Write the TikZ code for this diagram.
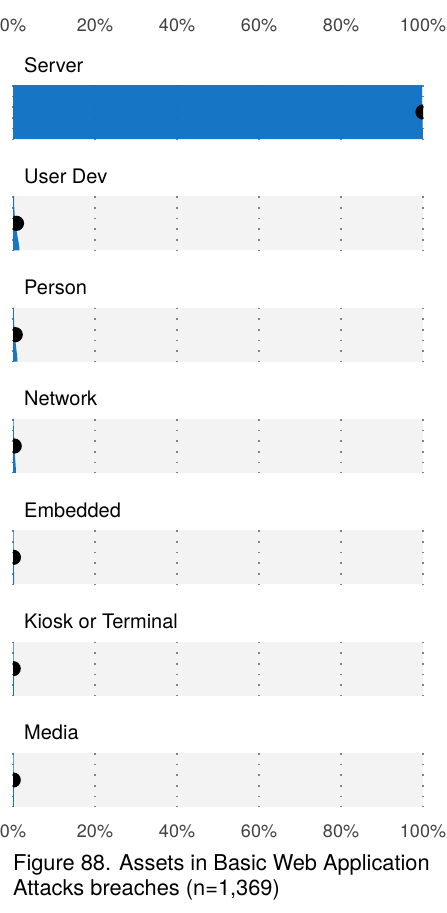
\documentclass[tikz,border=0pt]{standalone}
\usepackage{fontspec}
\setmainfont{TeX Gyre Heros}
\usetikzlibrary{positioning}
\definecolor{barblue}{RGB}{16,113,196}
\definecolor{bargray}{RGB}{243,243,243}
\definecolor{tickgray}{RGB}{64,64,64}
\definecolor{dotgray}{RGB}{130,130,130}

\begin{document}
\begin{tikzpicture}[x=1pt,y=-1pt,
    tick/.style={font=\fontsize{18}{18}\selectfont,text=tickgray,anchor=base,inner sep=0pt},
    asset/.style={font=\fontsize{20}{20}\selectfont,anchor=base west,inner sep=0pt},
    caption/.style={font=\fontsize{21.8}{25}\selectfont,anchor=base west,inner sep=0pt},
    gridline/.style={draw=dotgray,line width=1.1pt,dash pattern=on 1.6pt off 9.1pt},
    spread/.style={fill=barblue,fill opacity=0.97}]
\useasboundingbox (0,0) rectangle (447,913);
% axis labels, top and bottom
\foreach \g in {0,...,5} {
    \pgfmathtruncatemacro\p{20*\g}
    \node[tick] (top\g) at (13+82*\g,31) {\p\%};
    \node[tick] (bot\g) at (13+82*\g,837) {\p\%};
}
% one row per asset: name / label / value / top width / bottom width
\foreach \name/\lab/\val/\t/\w [count=\i from 0] in {
        server/Server/100/409/410,
        userdev/User Dev/0.85/1/6.5,
        person/Person/0.55/0.8/4.5,
        network/Network/0.3/0.7/3,
        embedded/Embedded/0.1/0.5/1.2,
        kiosk/Kiosk or Terminal/0.05/0.5/1,
        media/Media/0.05/0.5/1} {
    \pgfmathsetmacro\top{85+111.33*\i}
    \node[asset] (\name) at (24,\top-13) {\lab};
    \fill[bargray] (13,\top) rectangle (423,\top+54);
    \foreach \g in {0,...,5}
        \draw[gridline] (13+82*\g,\top) -- (13+82*\g,\top+54);
    \fill[spread] (13,\top) -- (13+\t,\top)
        .. controls (13+\t,\top+30) and (13+\w,\top+46) .. (13+\w,\top+54)
        -- (13,\top+54) -- cycle;
    \begin{scope}
        \clip (13,\top) rectangle (423,\top+54);
        \fill (13+4.1*\val,\top+27) circle (7.6);
    \end{scope}
}
% caption
\node[caption] (cap1) at (13,870) {Figure 88. Assets in Basic Web Application};
\node[caption] (cap2) at (13,895) {Attacks breaches (n=1,369)};
\end{tikzpicture}
\end{document}
